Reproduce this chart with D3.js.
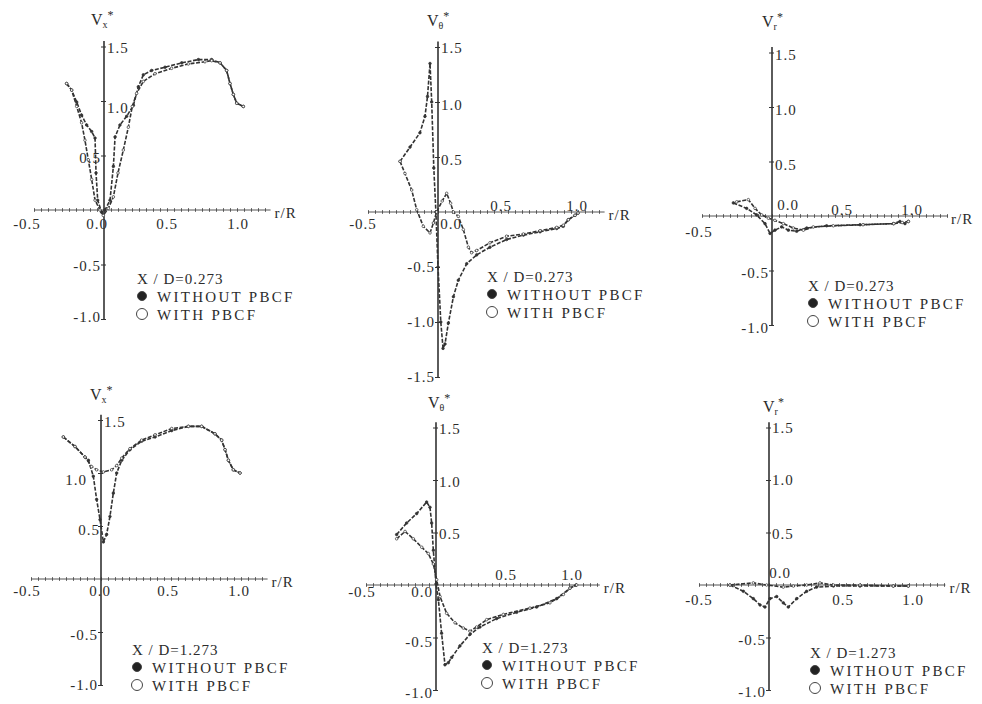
<!DOCTYPE html>
<html><head><meta charset="utf-8">
<script src="https://cdn.jsdelivr.net/npm/d3@7"></script>
<style>
html,body{margin:0;padding:0;background:#fff;}
svg text{font-family:"Liberation Serif","DejaVu Serif",serif;fill:#2b2b2b;}
</style></head>
<body>
<svg id="chart" width="982" height="704"></svg>
<script>
// ---------- data: [r/R, V*] ----------
const vx273Without = [[-0.267,1.16],[-0.231,1.10],[-0.195,0.99],[-0.16,0.87],[-0.124,0.78],[-0.088,0.72],[-0.064,0.66],[-0.057,0.34],[-0.045,0.09],[-0.017,-0.02],[0.007,0.0],[0.043,0.09],[0.067,0.40],[0.079,0.67],[0.114,0.78],[0.162,0.86],[0.21,0.96],[0.245,1.13],[0.281,1.24],[0.34,1.28],[0.436,1.31],[0.555,1.35],[0.674,1.38],[0.769,1.38],[0.829,1.35],[0.876,1.28],[0.90,1.16],[0.924,1.06],[0.948,0.98],[0.995,0.95]];
const vx273With = [[-0.267,1.16],[-0.231,1.10],[-0.195,0.95],[-0.16,0.80],[-0.136,0.64],[-0.112,0.46],[-0.088,0.28],[-0.064,0.09],[-0.029,0.0],[-0.005,-0.05],[0.031,0.015],[0.067,0.12],[0.10,0.34],[0.138,0.55],[0.174,0.76],[0.202,0.95],[0.233,1.07],[0.281,1.18],[0.364,1.25],[0.483,1.30],[0.602,1.34],[0.721,1.36],[0.769,1.37],[0.829,1.35],[0.876,1.28],[0.90,1.16],[0.924,1.06],[0.948,0.98],[0.995,0.95]];

const vt273Without = [[-0.271,0.46],[-0.2,0.59],[-0.129,0.72],[-0.093,0.87],[-0.075,1.05],[-0.057,1.35],[-0.045,1.0],[-0.03,0.4],[-0.015,0.0],[0.0,-0.5],[0.02,-1.0],[0.036,-1.24],[0.05,-1.2],[0.074,-1.01],[0.11,-0.77],[0.145,-0.62],[0.205,-0.47],[0.276,-0.39],[0.371,-0.32],[0.49,-0.25],[0.61,-0.21],[0.729,-0.18],[0.848,-0.15],[0.895,-0.13],[0.931,-0.07],[0.979,-0.03],[1.0,-0.01]];
const vt273With = [[-0.271,0.46],[-0.236,0.35],[-0.188,0.20],[-0.152,0.02],[-0.105,-0.13],[-0.057,-0.19],[-0.033,-0.10],[-0.01,0.0],[0.03,0.10],[0.062,0.17],[0.09,0.08],[0.11,0.0],[0.145,-0.04],[0.181,-0.16],[0.217,-0.32],[0.24,-0.37],[0.276,-0.35],[0.371,-0.28],[0.49,-0.22],[0.61,-0.20],[0.729,-0.17],[0.848,-0.14],[0.895,-0.12],[0.931,-0.07],[0.979,-0.03],[1.0,-0.01]];

const vr273Without = [[-0.276,0.12],[-0.181,0.07],[-0.11,0.01],[-0.05,-0.07],[-0.014,-0.16],[0.021,-0.13],[0.069,-0.10],[0.117,-0.13],[0.176,-0.14],[0.248,-0.11],[0.39,-0.09],[0.629,-0.08],[0.867,-0.07],[0.914,-0.05],[0.95,-0.07],[0.974,-0.05]];
const vr273With = [[-0.252,0.13],[-0.169,0.15],[-0.121,0.07],[-0.074,0.01],[-0.026,-0.02],[0.021,-0.04],[0.081,-0.07],[0.152,-0.11],[0.224,-0.13],[0.295,-0.10],[0.438,-0.09],[0.65,-0.08],[0.87,-0.07],[0.93,-0.06],[0.974,-0.05]];

const vx1273Without = [[-0.269,1.34],[-0.186,1.25],[-0.114,1.15],[-0.09,1.12],[-0.055,0.97],[-0.031,0.75],[-0.007,0.56],[0.017,0.35],[0.04,0.42],[0.064,0.59],[0.088,0.81],[0.112,1.0],[0.148,1.12],[0.207,1.22],[0.29,1.30],[0.386,1.34],[0.505,1.40],[0.624,1.44],[0.719,1.44],[0.814,1.37],[0.862,1.31],[0.886,1.22],[0.91,1.12],[0.945,1.03],[0.993,1.0]];
const vx1273With = [[-0.269,1.34],[-0.186,1.25],[-0.114,1.15],[-0.067,1.06],[-0.031,1.03],[0.017,1.01],[0.076,1.03],[0.112,1.07],[0.148,1.14],[0.207,1.23],[0.29,1.31],[0.386,1.36],[0.505,1.42],[0.624,1.44],[0.719,1.44],[0.814,1.37],[0.862,1.31],[0.886,1.22],[0.91,1.12],[0.945,1.03],[0.993,1.0]];

const vt1273Without = [[-0.281,0.48],[-0.21,0.59],[-0.138,0.68],[-0.067,0.79],[-0.043,0.74],[-0.031,0.59],[-0.019,0.33],[0.0,0.01],[0.017,-0.14],[0.04,-0.46],[0.064,-0.76],[0.088,-0.74],[0.112,-0.69],[0.171,-0.58],[0.243,-0.47],[0.314,-0.40],[0.433,-0.32],[0.576,-0.26],[0.719,-0.21],[0.862,-0.13],[0.957,-0.03],[1.0,0.0]];
const vt1273With = [[-0.281,0.44],[-0.221,0.51],[-0.162,0.44],[-0.102,0.36],[-0.055,0.30],[-0.019,0.20],[0.005,0.05],[0.029,-0.11],[0.076,-0.27],[0.136,-0.36],[0.195,-0.41],[0.243,-0.44],[0.29,-0.40],[0.362,-0.33],[0.481,-0.28],[0.671,-0.22],[0.814,-0.17],[0.91,-0.09],[0.957,-0.03],[1.005,0.0]];

const vr1273Without = [[-0.279,0],[-0.183,-0.06],[-0.112,-0.13],[-0.064,-0.19],[-0.029,-0.21],[0.007,-0.13],[0.055,-0.11],[0.102,-0.17],[0.138,-0.21],[0.198,-0.13],[0.269,-0.06],[0.34,-0.02],[0.46,-0.01],[0.65,-0.01],[0.888,-0.01],[0.995,-0.01]];
const vr1273With = [[-0.279,0],[-0.112,0.02],[-0.017,0],[0.102,-0.02],[0.174,-0.01],[0.269,0],[0.364,0.02],[0.46,0],[0.65,0],[0.888,-0.01],[0.995,-0.01]];

const xTickLabels = [-0.5, 0.0, 0.5, 1.0];
const yTickLabels = [1.5, 1.0, 0.5, -0.5, -1.0];
const yTickLabelsLong = [1.5, 1.0, 0.5, -0.5, -1.0, -1.5];
const stations = ["0.273", "1.273"];
const components = ["x", "θ", "r"];
const legendLabels = ["WITHOUT PBCF", "WITH PBCF"];

// ---------- layout ----------
const panels = [
 {ox:104, oy:210, ky:109, yMin:-1.0, xEnd:1.19, comp:0, st:0, s:[vx273Without, vx273With], yl:yTickLabels,
  xl:[[-7,19],[-7,19],[-7,19],[-6,19]], ylp:[["r",6],["r",12],["l",7],["l",6],["l",3]],
  title:[91,25], leg:[137,284]},
 {ox:438, oy:212, ky:110, yMin:-1.5, xEnd:1.19, comp:1, st:0, s:[vt273Without, vt273With], yl:yTickLabelsLong,
  xl:[[-5,17],[13,17],[-7,-1],[-1,-1]], ylp:[["r",6],["r",8],["r",8],["l",5],["l",5],["l",5]],
  title:[427,26], leg:[487,282]},
 {ox:772, oy:216, ky:109, yMin:-1.0, xEnd:1.25, comp:2, st:0, s:[vr273Without, vr273With], yl:yTickLabels,
  xl:[[-3,21],[16,-6],[0,-1],[0,-1]], ylp:[["r",7],["r",8],["r",8],["l",7],["l",8]],
  title:[762,27], leg:[808,291]},
 {ox:101, oy:579, ky:106, yMin:-1.0, xEnd:1.19, comp:0, st:1, s:[vx1273Without, vx1273With], yl:yTickLabels,
  xl:[[-4,17],[-1,17],[-3,17],[-2,17]], ylp:[["r",7],["l",12,-14],["l",9,-1],["l",8],["l",5]],
  title:[90,400], leg:[132,655]},
 {ox:436, oy:585, ky:105, yMin:-1.0, xEnd:1.17, comp:1, st:1, s:[vt1273Without, vt1273With], yl:yTickLabels,
  xl:[[-4,12],[-14,12],[0,-5],[-4,-5]], ylp:[["r",6],["r",7],["r",6],["l",9],["l",8]],
  title:[428,408], leg:[482,653]},
 {ox:769, oy:585, ky:105, yMin:-1.0, xEnd:1.26, comp:2, st:1, s:[vr1273Without, vr1273With], yl:yTickLabels,
  xl:[[0,20],[11,-7],[4,20],[4,20]], ylp:[["r",5],["r",5],["r",6],["l",7],["l",7]],
  title:[763,412], leg:[810,658]}
];
const KX = 140;

const svg = d3.select("#chart");
const fmt = v => v.toFixed(1);   // hyphen minus, as in the figure

panels.forEach(p => {
  const x = d3.scaleLinear().domain([0, 1]).range([p.ox, p.ox + KX]);
  const y = d3.scaleLinear().domain([0, 1]).range([p.oy, p.oy - p.ky]);
  const g = svg.append("g");

  // x axis
  const xa = g.append("g").attr("transform", `translate(0,${p.oy})`)
    .call(d3.axisBottom(x).tickValues(d3.range(-10, Math.floor(p.xEnd * 20) + 1).map(i => i * 0.05))
      .tickFormat("").tickSizeOuter(0));
  xa.select(".domain").attr("d", `M${x(-0.5)},0H${x(p.xEnd)}`).attr("stroke", "#555").attr("stroke-width", 1);
  xa.selectAll(".tick line").attr("y1", -1.8).attr("y2", 1.8).attr("stroke", "#555");

  // y axis
  const ya = g.append("g").attr("transform", `translate(${p.ox},0)`)
    .call(d3.axisLeft(y).tickValues(p.yl).tickFormat("").tickSizeOuter(0));
  ya.select(".domain").attr("d", `M0,${y(1.55)}V${y(p.yMin - 0.01)}`).attr("stroke", "#333").attr("stroke-width", 1.6);
  ya.selectAll(".tick line").attr("x1", -3).attr("x2", 2).attr("stroke", "#333");

  // x tick labels
  xTickLabels.forEach((v, i) => {
    g.append("text").attr("x", x(v) + p.xl[i][0]).attr("y", p.oy + p.xl[i][1])
      .attr("text-anchor", "middle").attr("font-size", 15).attr("letter-spacing", 1)
      .text(fmt(v));
  });
  // y tick labels
  p.yl.forEach((v, i) => {
    const [side, dy, dxo] = p.ylp[i];
    const t = g.append("text").attr("y", y(v) + dy).attr("font-size", 15).attr("letter-spacing", 1).text(fmt(v));
    if (side === "r") t.attr("x", p.ox + 3).attr("text-anchor", "start");
    else t.attr("x", p.ox + (dxo !== undefined ? dxo : -3)).attr("text-anchor", "end");
  });
  // r/R
  g.append("text").attr("x", x(p.xEnd) + 4).attr("y", p.oy + 8).attr("font-size", 15).attr("letter-spacing", 1).text("r/R");

  // axis title V*
  const tt = g.append("text").attr("x", p.title[0]).attr("y", p.title[1]).attr("font-size", 16);
  tt.append("tspan").text("V");
  tt.append("tspan").attr("font-size", 10).attr("dy", 3).text(components[p.comp]);
  tt.append("tspan").attr("font-size", 12).attr("dy", -9).text("*");

  // curves
  const line = d3.line().x(d => x(d[0])).y(d => y(d[1])).curve(d3.curveLinear);
  p.s.forEach((data, k) => {
    g.append("path").datum(data).attr("d", line).attr("fill", "none")
      .attr("stroke", "#333").attr("stroke-width", 1.6).attr("stroke-dasharray", "4,1.6");
    g.selectAll(null).data(data).enter().append("circle")
      .attr("cx", d => x(d[0])).attr("cy", d => y(d[1])).attr("r", 1.3)
      .attr("fill", k === 0 ? "#333" : "#fff").attr("stroke", "#333").attr("stroke-width", 0.7);
  });

  // legend
  const [lx, ly] = p.leg;
  g.append("text").attr("x", lx).attr("y", ly).attr("font-size", 15).attr("letter-spacing", 1)
    .text("X / D=" + stations[p.st]);
  legendLabels.forEach((lab, k) => {
    const cy = ly + 12 + k * 18;
    g.append("circle").attr("cx", lx + 5).attr("cy", cy).attr("r", k === 0 ? 4.5 : 5.5)
      .attr("fill", k === 0 ? "#222" : "#fff").attr("stroke", "#444").attr("stroke-width", 1);
    g.append("text").attr("x", lx + 20).attr("y", cy + 6).attr("font-size", 15).attr("letter-spacing", 2.3).text(lab);
  });
});
</script>
</body></html>
